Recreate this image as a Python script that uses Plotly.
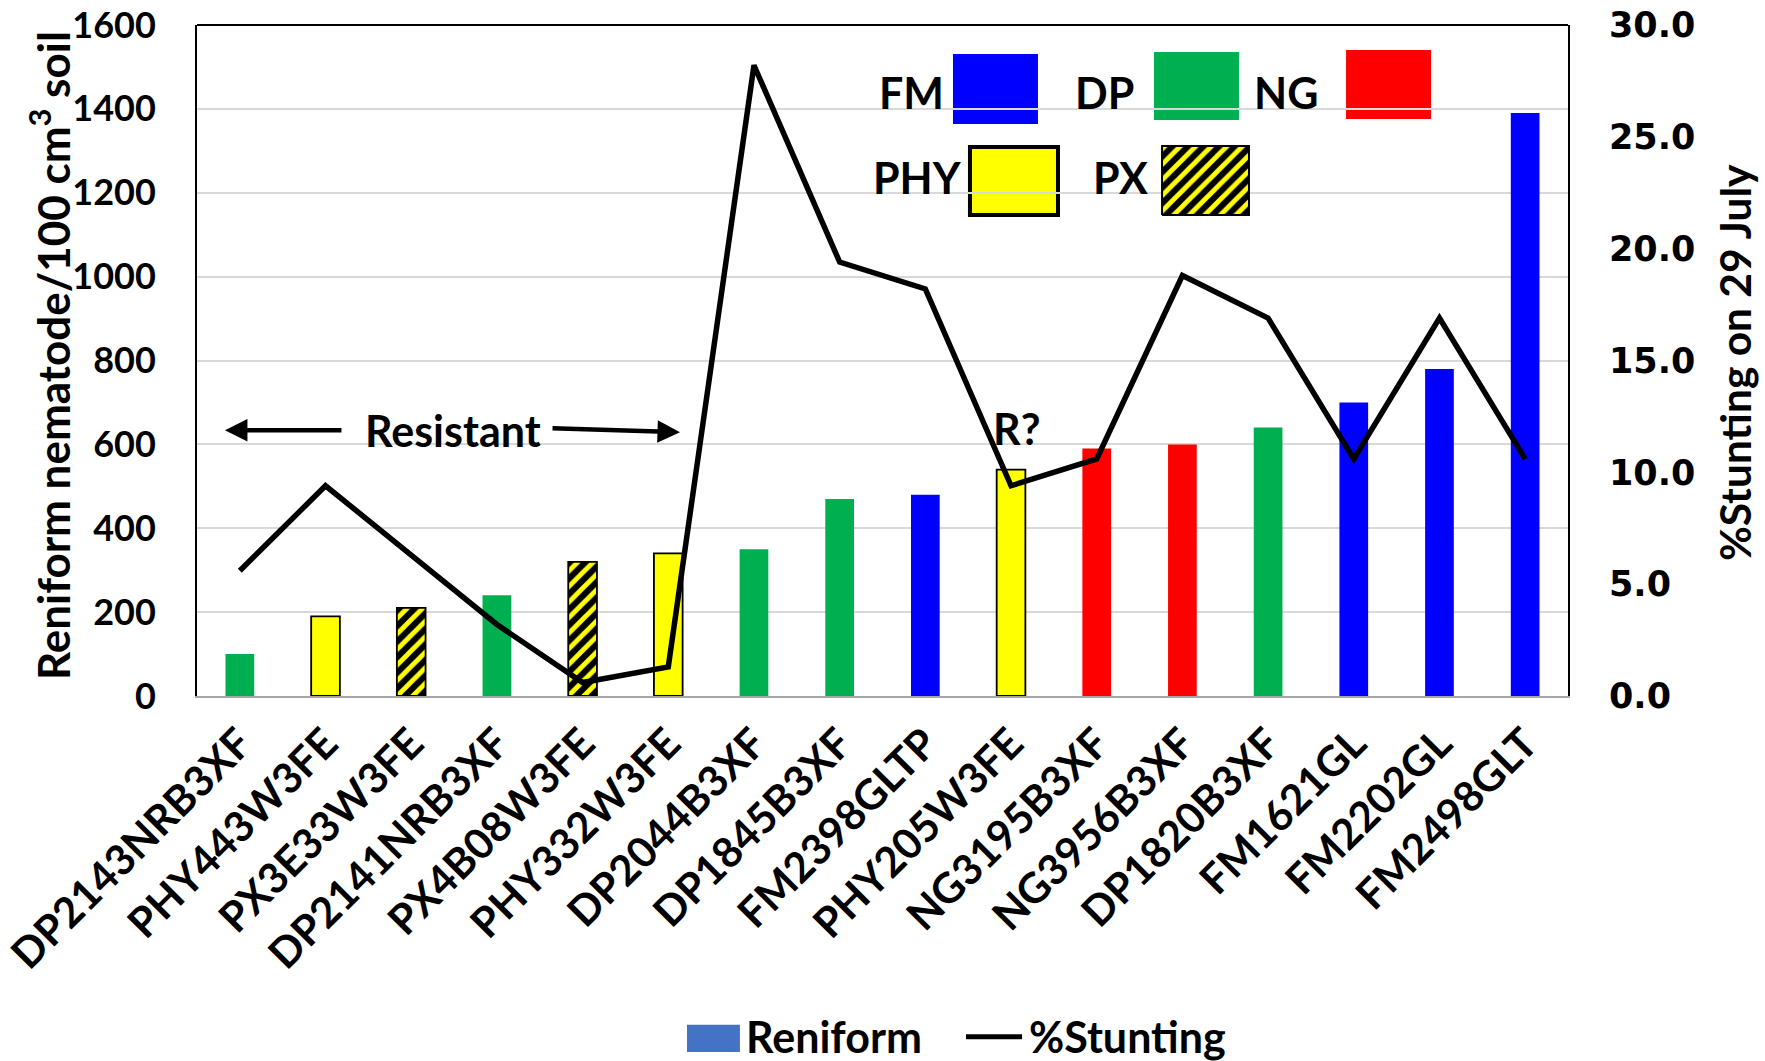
import plotly.graph_objects as go

# Cultivars (x categories) and measured values
cultivars = ["DP2143NRB3XF", "PHY443W3FE", "PX3E33W3FE", "DP2141NRB3XF",
             "PX4B08W3FE", "PHY332W3FE", "DP2044B3XF", "DP1845B3XF",
             "FM2398GLTP", "PHY205W3FE", "NG3195B3XF", "NG3956B3XF",
             "DP1820B3XF", "FM1621GL", "FM2202GL", "FM2498GLT"]
reniform = [100, 190, 210, 240, 320, 340, 350, 470, 480, 540, 590, 600, 640, 700, 780, 1390]
stunting = [5.6, 9.4, 6.3, 3.2, 0.6, 1.3, 28.2, 19.4, 18.2, 9.4, 10.6, 18.8, 16.9, 10.6, 16.9, 10.6]

left_ticks = [0, 200, 400, 600, 800, 1000, 1200, 1400, 1600]
right_ticks = [0, 5, 10, 15, 20, 25, 30]

# Brand colours keyed by cultivar prefix
brand_color = {"FM": "#0000FF", "DP": "#00B050", "NG": "#FF0000", "PHY": "#FFFF00", "PX": "#000000"}


def brand(name):
    for b in ("PHY", "PX", "FM", "DP", "NG"):
        if name.startswith(b):
            return b
    return ""


brands = [brand(c) for c in cultivars]
is_px = [b == "PX" for b in brands]
solid_vals = [None if p else v for v, p in zip(reniform, is_px)]
px_vals = [v if p else None for v, p in zip(reniform, is_px)]
bar_colors = [brand_color[b] for b in brands]
outline_w = [1.8 if b == "PHY" else 0 for b in brands]

FONT = "Lato"
BLACK = "#000000"
YELLOW = "#FFFF00"
HATCH = dict(shape="/", fgcolor=YELLOW, bgcolor=BLACK, fgopacity=1, size=11, solidity=0.45,
             fillmode="replace")

fig = go.Figure()

# Solid-coloured cultivars
fig.add_trace(go.Bar(
    x=cultivars, y=solid_vals, name="Reniform", showlegend=False,
    marker=dict(color=bar_colors, line=dict(color=BLACK, width=outline_w)),
))
# PX cultivars: black with yellow diagonal hatching
fig.add_trace(go.Bar(
    x=cultivars, y=px_vals, name="Reniform PX", showlegend=False,
    marker=dict(color=BLACK, line=dict(color=BLACK, width=1.8), pattern=HATCH),
))

fig.add_trace(go.Scatter(
    x=cultivars, y=stunting, name="%Stunting", yaxis="y2", showlegend=False,
    mode="lines", line=dict(color=BLACK, width=5.5),
))

# Hatched swatch for PX in the inset key (needs a fill pattern, so it is a filled trace)
px_x = [0.7039, 0.7673, 0.7673, 0.7039, 0.7039]
px_y = [0.7168, 0.7168, 0.8197, 0.8197, 0.7168]
fig.add_trace(go.Scatter(
    x=px_x, y=px_y, xaxis="x3", yaxis="y3", mode="lines", fill="toself",
    fillcolor=BLACK, line=dict(color=BLACK, width=2), showlegend=False, hoverinfo="skip",
    fillpattern=HATCH,
))

shapes = []
# Inset key swatches
for (x0, x1, y0, y1, col, lw) in [
    (0.5514, 0.6134, 0.8525, 0.9568, "#0000FF", 0),
    (0.6980, 0.7600, 0.8584, 0.9598, "#00B050", 0),
    (0.8381, 0.9001, 0.8600, 0.9627, "#FF0000", 0),
    (0.5638, 0.6280, 0.7168, 0.8182, YELLOW, 4),
]:
    shapes.append(dict(type="rect", xref="paper", yref="paper", x0=x0, x1=x1, y0=y0, y1=y1,
                       fillcolor=col, line=dict(color=BLACK, width=lw), layer="below"))
# Top frame line
shapes.append(dict(type="line", xref="paper", yref="paper", x0=0, x1=1, y0=1, y1=1,
                   line=dict(color=BLACK, width=2)))
# Bottom key: series swatches
shapes.append(dict(type="rect", xref="paper", yref="paper", x0=0.3574, x1=0.396, y0=-0.5306, y1=-0.490,
                   fillcolor="#4472C4", line=dict(width=0)))
shapes.append(dict(type="line", xref="paper", yref="paper", x0=0.5609, x1=0.6018, y0=-0.508, y1=-0.508,
                   line=dict(color=BLACK, width=5)))

big = dict(family=FONT, size=43, color=BLACK, weight="bold")


def label(text, x, y, xanchor="center", **kw):
    return dict(text=text, x=x, y=y, xref="paper", yref="paper", showarrow=False,
                xanchor=xanchor, yanchor="middle", font=kw.pop("font", big), **kw)


annotations = [
    label("FM", 0.5215, 0.900),
    label("DP", 0.662, 0.900),
    label("NG", 0.794, 0.900),
    label("PHY", 0.5255, 0.772),
    label("PX", 0.6736, 0.772),
    label("Resistant", 0.1864, 0.395),
    label("R?", 0.5974, 0.399),
    # Arrows either side of the "Resistant" label
    dict(text="", x=0.0204, y=0.396, xref="paper", yref="paper", showarrow=True,
         ax=118, ay=0, arrowhead=2, arrowsize=1, arrowwidth=4.5, arrowcolor=BLACK),
    dict(text="", x=0.3523, y=0.393, xref="paper", yref="paper", showarrow=True,
         ax=-129, ay=-4, arrowhead=2, arrowsize=1, arrowwidth=4.5, arrowcolor=BLACK),
    # Axis titles
    label("Reniform nematode/100 cm<sup>3</sup> soil", -0.107, 0.507, textangle=-90,
          font=dict(family=FONT, size=44, color=BLACK, weight="bold")),
    label("%Stunting on 29 July", 1.1215, 0.497, textangle=-90,
          font=dict(family=FONT, size=42.5, color=BLACK, weight="bold")),
    # Bottom key labels
    label("Reniform", 0.399, -0.508, xanchor="left"),
    label("%Stunting", 0.6054, -0.508, xanchor="left"),
]

fig.update_layout(
    width=1765, height=1061,
    margin=dict(l=197, r=197, t=25, b=365, autoexpand=False),
    paper_bgcolor="white", plot_bgcolor="rgba(0,0,0,0)",
    barmode="overlay", bargap=0.665,
    showlegend=False,
    font=dict(family=FONT, color=BLACK),
    shapes=shapes, annotations=annotations,
    xaxis=dict(type="category", tickangle=-45, showgrid=False,
               tickfont=dict(family=FONT, size=42, color=BLACK, weight="bold"),
               showline=True, linecolor="#A6A6A6", linewidth=2, ticks="", zeroline=False,
               ticklabelstandoff=4),
    yaxis=dict(range=[0, 1600], tickvals=left_ticks, showgrid=True, gridcolor="#D9D9D9", gridwidth=1.5,
               showline=True, linecolor=BLACK, linewidth=2, mirror=True, zeroline=False,
               ticks="", ticklabelstandoff=32,
               tickfont=dict(family=FONT, size=36, color=BLACK, weight="bold")),
    yaxis2=dict(range=[0, 30], tickvals=right_ticks, tickformat=".1f", overlaying="y", side="right",
                showgrid=False, zeroline=False, showline=False, ticks="", ticklabelstandoff=40,
                tickfont=dict(family="DejaVu Sans", size=35, color=BLACK, weight="bold")),
    xaxis3=dict(overlaying="x", range=[0, 1], visible=False),
    yaxis3=dict(overlaying="y", range=[0, 1], visible=False),
)

fig.write_html("out.html")
